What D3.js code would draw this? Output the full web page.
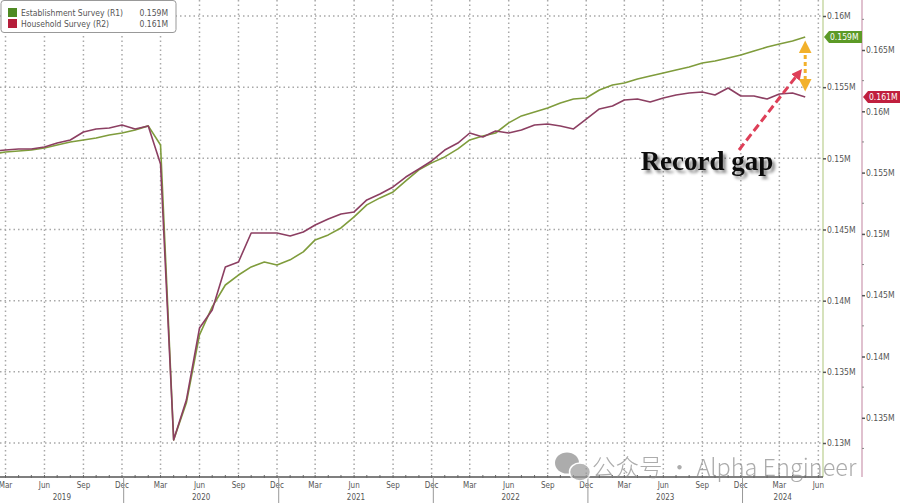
<!DOCTYPE html>
<html><head><meta charset="utf-8">
<script src="https://cdn.jsdelivr.net/npm/d3@7"></script>
<style>
html,body{margin:0;padding:0;background:#fff;}
svg{display:block;}
</style></head>
<body>
<svg id="chart" width="900" height="503"></svg>
<script>
// ---- data (monthly, first of month, Feb 2019 .. May 2024) ----
const startMonth = [2019, 1]; // Feb 2019 (JS month index)
const establishment = [
  0.15031,0.15045,0.15052,0.15059,0.15073,0.15094,0.15115,0.15129,0.15143,0.15164,0.15178, // Feb-Dec 2019
  0.15199,0.15228,0.15094,0.13022,0.13282,0.13760,0.13956,0.14110,0.14180,0.14237,0.14272,0.14251, // 2020
  0.14287,0.14343,0.14427,0.14462,0.14511,0.14589,0.14673,0.14722,0.14764,0.14841,0.14919,0.14968, // 2021
  0.15010,0.15066,0.15129,0.15157,0.15178,0.15249,0.15298,0.15326,0.15354,0.15389,0.15417,0.15424, // 2022
  0.15480,0.15515,0.15529,0.15558,0.15579,0.15600,0.15621,0.15642,0.15670,0.15684,0.15705,0.15726, // 2023
  0.15754,0.15782,0.15803,0.15824,0.15853 // 2024
];
const household = [
  0.15676,0.15684,0.15692,0.15692,0.15709,0.15741,0.15766,0.15831,0.15856,0.15864,0.15888, // Feb-Dec 2019
  0.15856,0.15880,0.15570,0.13320,0.13645,0.14232,0.14379,0.14730,0.14771,0.15007,0.15007,0.15007, // 2020
  0.14983,0.15015,0.15073,0.15121,0.15162,0.15179,0.15277,0.15325,0.15383,0.15464,0.15529,0.15595, // 2021
  0.15684,0.15741,0.15823,0.15790,0.15839,0.15823,0.15847,0.15888,0.15896,0.15880,0.15856,0.15937, // 2022
  0.16019,0.16043,0.16092,0.16100,0.16076,0.16108,0.16133,0.16149,0.16157,0.16133,0.16190,0.16125, // 2023
  0.16125,0.16100,0.16141,0.16149,0.16117 // 2024
];
const seriesNames = ["Establishment Survey (R1)", "Household Survey (R2)"];
const seriesLast = ["0.159M", "0.161M"];
const r1Ticks = [0.13,0.135,0.14,0.145,0.15,0.155,0.16];
const r2Ticks = [0.135,0.14,0.145,0.15,0.155,0.16,0.165];
const monthLabels = ["Mar","Jun","Sep","Dec"];
const years = [2019,2020,2021,2022,2023,2024];
const annotationText = "Record gap";
const watermark = "公众号 · Alpha Engineer";

// ---- layout ----
const W = 900, H = 503;
const plotR = 823, axisY = 477;
const svg = d3.select("#chart");
const colG = "#7f9c3c", colR = "#8c3f62";
const uiFont = "'DejaVu Sans Condensed','DejaVu Sans',sans-serif";

const x = d3.scaleTime()
  .domain([new Date(2019,1,16), new Date(2024,5,12)])
  .range([0, plotR]);
const y1 = d3.scaleLinear().domain([0.13, 0.16]).range([443, 16]);
const y2 = d3.scaleLinear().domain([0.135, 0.165]).range([417.8, 50]);

const dates = establishment.map((_, i) => new Date(startMonth[0], startMonth[1] + i, 1));

const defs = svg.append("defs");
defs.append("clipPath").attr("id","clip").append("rect")
  .attr("x",0).attr("y",0).attr("width",plotR).attr("height",axisY);
const f = defs.append("filter").attr("id","shadow").attr("x","-20%").attr("y","-40%").attr("width","140%").attr("height","180%");
f.append("feDropShadow").attr("dx",3).attr("dy",3).attr("stdDeviation",1.6)
  .attr("flood-color","#000").attr("flood-opacity",0.45);
const mk = (id, col, s) => defs.append("marker").attr("id",id).attr("viewBox","0 0 10 10")
  .attr("refX",4).attr("refY",5).attr("markerWidth",s).attr("markerHeight",s)
  .attr("orient","auto-start-reverse").append("path").attr("d","M0,0 L10,5 L0,10 z").attr("fill",col);
mk("arrRed","#de3f58",3.6);
mk("arrOr","#f2b12c",4.2);

// ---- grid ----
const grid = svg.append("g");
grid.selectAll("line.h").data(r1Ticks).join("line")
  .attr("x1",0).attr("x2",plotR).attr("y1",d=>y1(d)).attr("y2",d=>y1(d))
  .attr("stroke","#a8a8a8").attr("stroke-width",1.5).attr("stroke-dasharray","1.5,3");
const allMonths = d3.timeMonth.range(new Date(2019,2,1), new Date(2024,5,2));
const quarterMonths = allMonths.filter(d => [2,5,8,11].includes(d.getMonth()));
grid.selectAll("line.v").data(quarterMonths).join("line")
  .attr("x1",d=>x(d)).attr("x2",d=>x(d)).attr("y1",0).attr("y2",axisY)
  .attr("stroke","#a8a8a8").attr("stroke-width",1.5).attr("stroke-dasharray","1.5,3");

// ---- right axes ----
svg.append("line").attr("x1",plotR).attr("x2",plotR).attr("y1",0).attr("y2",axisY)
  .attr("stroke","#c9d8a6").attr("stroke-width",1.5);
svg.append("line").attr("x1",862).attr("x2",862).attr("y1",0).attr("y2",axisY)
  .attr("stroke","#d6adbf").attr("stroke-width",1.5);

const ax1 = svg.append("g").attr("transform",`translate(${plotR},0)`)
  .call(d3.axisRight(y1).tickValues(r1Ticks).tickSize(3).tickFormat(d=>(+d.toFixed(3))+"M"));
const ax2 = svg.append("g").attr("transform","translate(862,0)")
  .call(d3.axisRight(y2).tickValues(r2Ticks).tickSize(3).tickFormat(d=>(+d.toFixed(3))+"M"));
[ax1,ax2].forEach(a=>{
  a.select(".domain").remove();
  a.selectAll(".tick line").attr("stroke","#555").attr("stroke-width",1.5);
  a.selectAll(".tick text").attr("x",4).attr("fill","#555")
    .style("font-family",uiFont).style("font-size","8.5px");
});
// minor ticks on R2
svg.append("g").selectAll("line").data(d3.range(0.1325,0.1676,0.005)).join("line")
  .attr("x1",862).attr("x2",864).attr("y1",d=>y2(d)).attr("y2",d=>y2(d))
  .attr("stroke","#888").attr("stroke-width",1);

// ---- bottom axis ----
svg.append("line").attr("x1",0).attr("x2",plotR).attr("y1",axisY).attr("y2",axisY)
  .attr("stroke","#555").attr("stroke-width",1.5);
svg.append("g").selectAll("line").data(allMonths).join("line")
  .attr("x1",d=>x(d)).attr("x2",d=>x(d)).attr("y1",axisY-2).attr("y2",axisY+1)
  .attr("stroke","#666").attr("stroke-width",1);
svg.append("g").selectAll("text").data(quarterMonths).join("text")
  .attr("x",d=>x(d)).attr("y",axisY+11).attr("text-anchor","middle")
  .attr("fill","#555").style("font-family",uiFont).style("font-size","8px")
  .text(d=>monthLabels[[2,5,8,11].indexOf(d.getMonth())]);
const seps = years.slice(0,-1).map(yr => x(new Date(yr,11,5)));
svg.append("g").selectAll("line").data(seps).join("line")
  .attr("x1",d=>d).attr("x2",d=>d).attr("y1",axisY).attr("y2",H)
  .attr("stroke","#999").attr("stroke-width",1);
const bounds = [0, ...seps, plotR];
svg.append("g").selectAll("text").data(years).join("text")
  .attr("x",(d,i)=>(bounds[i]+bounds[i+1])/2).attr("y",axisY+23).attr("text-anchor","middle")
  .attr("fill","#555").style("font-family",uiFont).style("font-size","8px")
  .text(d=>d);

// ---- lines ----
const lines = svg.append("g").attr("clip-path","url(#clip)");
lines.append("path").datum(establishment)
  .attr("d", d3.line().x((d,i)=>x(dates[i])).y(d=>y1(d)))
  .attr("fill","none").attr("stroke",colG).attr("stroke-width",1.6).attr("stroke-linejoin","round");
lines.append("path").datum(household)
  .attr("d", d3.line().x((d,i)=>x(dates[i])).y(d=>y2(d)))
  .attr("fill","none").attr("stroke",colR).attr("stroke-width",1.6).attr("stroke-linejoin","round");

// ---- value tags ----
function tag(x0, yv, w, col, label){
  const h = 12;
  svg.append("path")
    .attr("d",`M${x0},${yv} L${x0+5},${yv-h/2} L${x0+w},${yv-h/2} L${x0+w},${yv+h/2} L${x0+5},${yv+h/2} Z`)
    .attr("fill",col);
  svg.append("text").attr("x",x0+6).attr("y",yv+3.2).attr("fill","#fff")
    .style("font-family",uiFont).style("font-size","8.5px").text(label);
}
tag(plotR+1, y1(establishment[establishment.length-1]), 38, "#5c9a26", seriesLast[0]);
tag(863, y2(household[household.length-1]), 37, "#c01f3e", seriesLast[1]);

// ---- legend ----
const lg = svg.append("g");
lg.append("rect").attr("x",1).attr("y",0.5).attr("width",175).attr("height",32).attr("rx",3)
  .attr("fill","#fff").attr("stroke","#999").attr("stroke-width",1);
[colG, colR].forEach((c,i)=>{
  const yy = 8 + i*11;
  lg.append("rect").attr("x",8).attr("y",yy).attr("width",9).attr("height",9)
    .attr("fill", i===0 ? "#4f8a23" : "#b51e3b");
  lg.append("text").attr("x",21).attr("y",yy+8).attr("fill","#555")
    .style("font-family",uiFont).style("font-size","8.5px")
    .text(seriesNames[i]);
  lg.append("text").attr("x",168).attr("y",yy+8).attr("text-anchor","end").attr("fill","#555")
    .style("font-family",uiFont).style("font-size","8.5px")
    .text(seriesLast[i]);
});

// ---- annotations ----
const lastX = x(dates[dates.length-1]);
svg.append("line").attr("x1",lastX).attr("x2",lastX).attr("y1",48).attr("y2",84)
  .attr("stroke","#f2b12c").attr("stroke-width",3).attr("stroke-dasharray","4,3")
  .attr("marker-start","url(#arrOr)").attr("marker-end","url(#arrOr)");
svg.append("line").attr("x1",739).attr("y1",150).attr("x2",798).attr("y2",74)
  .attr("stroke","#de3f58").attr("stroke-width",3).attr("stroke-dasharray","8,4")
  .attr("marker-end","url(#arrRed)");
svg.append("text").attr("x",707).attr("y",170).attr("text-anchor","middle")
  .attr("fill","#111").attr("filter","url(#shadow)")
  .style("font-family","'Liberation Serif','Times New Roman',serif").style("font-weight","bold").style("font-size","27px")
  .text(annotationText);

// ---- watermark ----
const wm = svg.append("g").attr("opacity",0.7);
wm.append("ellipse").attr("cx",567).attr("cy",463).attr("rx",12).attr("ry",10.5).attr("fill","#8a8a8a");
wm.append("ellipse").attr("cx",580).attr("cy",472).attr("rx",10.5).attr("ry",9).attr("fill","#9a9a9a").attr("stroke","#fff").attr("stroke-width",1.5);
wm.append("text").attr("x",592).attr("y",476).attr("fill","#8a8a8a")
  .style("font-family","'Noto Sans CJK SC','Noto Sans',sans-serif").style("font-size","23.5px").style("font-weight","300")
  .text(watermark);
</script>
</body></html>
